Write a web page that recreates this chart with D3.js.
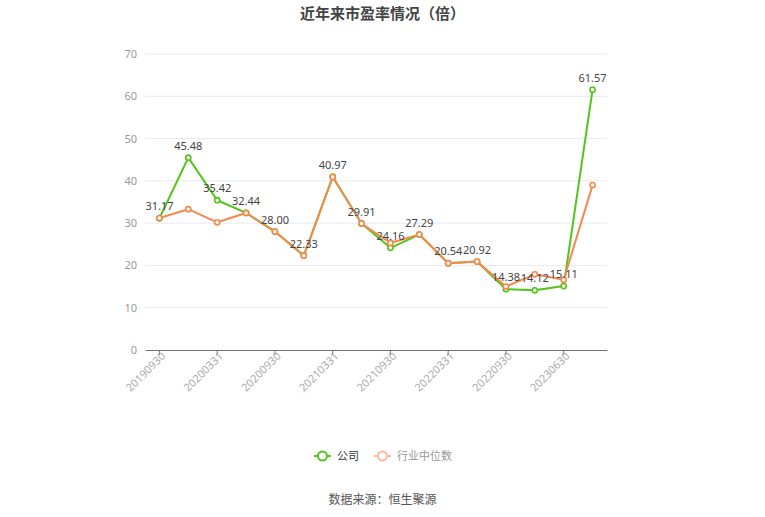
<!DOCTYPE html>
<html>
<head>
<meta charset="utf-8">
<script src="https://cdn.jsdelivr.net/npm/d3@7"></script>
<style>
  body { margin: 0; background: #fff; font-family: "Noto Sans CJK SC", "Noto Sans", sans-serif; }
</style>
</head>
<body>
<div id="chart"></div>
<script>
// data
const periods = ["20190930", "20191231", "20200331", "20200630", "20200930", "20201231",
    "20210331", "20210630", "20210930", "20211231", "20220331", "20220630",
    "20220930", "20230331", "20230630", "20230930"];
const companyPE = [31.17, 45.48, 35.42, 32.44, 28.00, 22.33, 40.97, 29.91, 24.16, 27.29,
    20.54, 20.92, 14.38, 14.12, 15.11, 61.57];
const industryPE = [31.2, 33.3, 30.2, 32.4, 28.0, 22.3, 40.9, 29.9, 25.3, 27.3,
    20.5, 20.9, 15.0, 17.9, 16.6, 39.0];
const yTicks = [0, 10, 20, 30, 40, 50, 60, 70];

const width = 765, height = 517;
const margin = { top: 54, right: 158, bottom: 167, left: 145 };
const innerWidth = width - margin.left - margin.right;
const innerHeight = height - margin.top - margin.bottom;

const companyColor = "#52c41a";
const industryColor = "#f4894f";

const svg = d3.select("#chart")
    .append("svg")
    .attr("width", width)
    .attr("height", height)
    .attr("viewBox", `0 0 ${width} ${height}`);

const inner = svg.append("g")
    .attr("transform", `translate(${margin.left}, ${margin.top})`);

const xScale = d3.scaleBand()
    .domain(periods)
    .range([0, innerWidth]);

const yScale = d3.scaleLinear()
    .domain([0, 70])
    .range([innerHeight, 0]);

const xPos = d => xScale(d) + xScale.bandwidth() / 2;

// grid lines
inner.selectAll(".grid")
    .data(yTicks.slice(1))
    .join("line")
    .attr("class", "grid")
    .attr("x1", 0)
    .attr("x2", innerWidth)
    .attr("y1", d => yScale(d))
    .attr("y2", d => yScale(d))
    .attr("stroke", "#e6e9f1")
    .attr("stroke-width", 1);

// y axis (labels only)
const yAxis = inner.append("g")
    .attr("class", "y-axis")
    .call(d3.axisLeft(yScale).tickValues(yTicks).tickSize(0).tickPadding(8));
yAxis.select(".domain").remove();
yAxis.selectAll("text")
    .style("font-size", "11px")
    .style("font-family", "'Noto Sans', sans-serif")
    .attr("fill", "#999");

// x axis
const xAxis = inner.append("g")
    .attr("class", "x-axis")
    .attr("transform", `translate(0, ${innerHeight})`)
    .call(d3.axisBottom(xScale)
        .tickValues(periods.filter((d, i) => i % 2 === 0))
        .tickSize(5)
        .tickSizeOuter(0));
xAxis.select(".domain").attr("stroke", "#6e7079");
xAxis.selectAll(".tick line").attr("stroke", "#6e7079");
xAxis.selectAll("text")
    .style("font-size", "11px")
    .style("font-family", "'Noto Sans', sans-serif")
    .attr("fill", "#aaa")
    .attr("text-anchor", "end")
    .attr("dy", "0.35em")
    .attr("transform", "translate(4, 4) rotate(-45)")
    .attr("x", 0)
    .attr("y", 0);

const line = d3.line()
    .x((d, i) => xPos(periods[i]))
    .y(d => yScale(d));

const drawSeries = (values, color, cls) => {
    inner.append("path")
        .datum(values)
        .attr("fill", "none")
        .attr("stroke", color)
        .attr("stroke-width", 2)
        .attr("stroke-linejoin", "round")
        .attr("d", line);
    inner.selectAll(`.${cls}`)
        .data(values)
        .join("circle")
        .attr("class", cls)
        .attr("cx", (d, i) => xPos(periods[i]))
        .attr("cy", d => yScale(d))
        .attr("r", 2.6)
        .attr("fill", "#fff")
        .attr("stroke", color)
        .attr("stroke-width", 1.6);
};

drawSeries(companyPE, companyColor, "company-pt");
drawSeries(industryPE, industryColor, "industry-pt");

// value labels for company
inner.selectAll(".val-label")
    .data(companyPE)
    .join("text")
    .attr("class", "val-label")
    .attr("x", (d, i) => xPos(periods[i]))
    .attr("y", d => yScale(d) - 8)
    .attr("text-anchor", "middle")
    .style("font-size", "11px")
    .style("font-family", "'Noto Sans', sans-serif")
    .attr("fill", "#444")
    .text(d => d.toFixed(2));

// title
svg.append("text")
    .attr("x", width / 2)
    .attr("y", 19)
    .attr("text-anchor", "middle")
    .style("font-size", "15px")
    .style("font-weight", "bold")
    .attr("fill", "#444")
    .text("近年来市盈率情况（倍）");

// legend
const legendItems = [
    { label: "公司", color: companyColor, textColor: "#333", x: 314 },
    { label: "行业中位数", color: "#fdb99a", textColor: "#999", x: 374 }
];
const legend = svg.append("g").attr("transform", "translate(0, 456)");
legendItems.forEach(item => {
    const g = legend.append("g").attr("transform", `translate(${item.x}, 0)`);
    g.append("line")
        .attr("x1", 0).attr("x2", 17)
        .attr("y1", 0).attr("y2", 0)
        .attr("stroke", item.color)
        .attr("stroke-width", 2);
    g.append("circle")
        .attr("cx", 8.5).attr("cy", 0)
        .attr("r", 4.5)
        .attr("fill", "#fff")
        .attr("stroke", item.color)
        .attr("stroke-width", 2);
    g.append("text")
        .attr("x", 23)
        .attr("y", 4)
        .style("font-size", "11px")
        .attr("fill", item.textColor)
        .text(item.label);
});

// source
svg.append("text")
    .attr("x", width / 2)
    .attr("y", 504)
    .attr("text-anchor", "middle")
    .style("font-size", "12px")
    .attr("fill", "#555")
    .text("数据来源：恒生聚源");
</script>
</body>
</html>
